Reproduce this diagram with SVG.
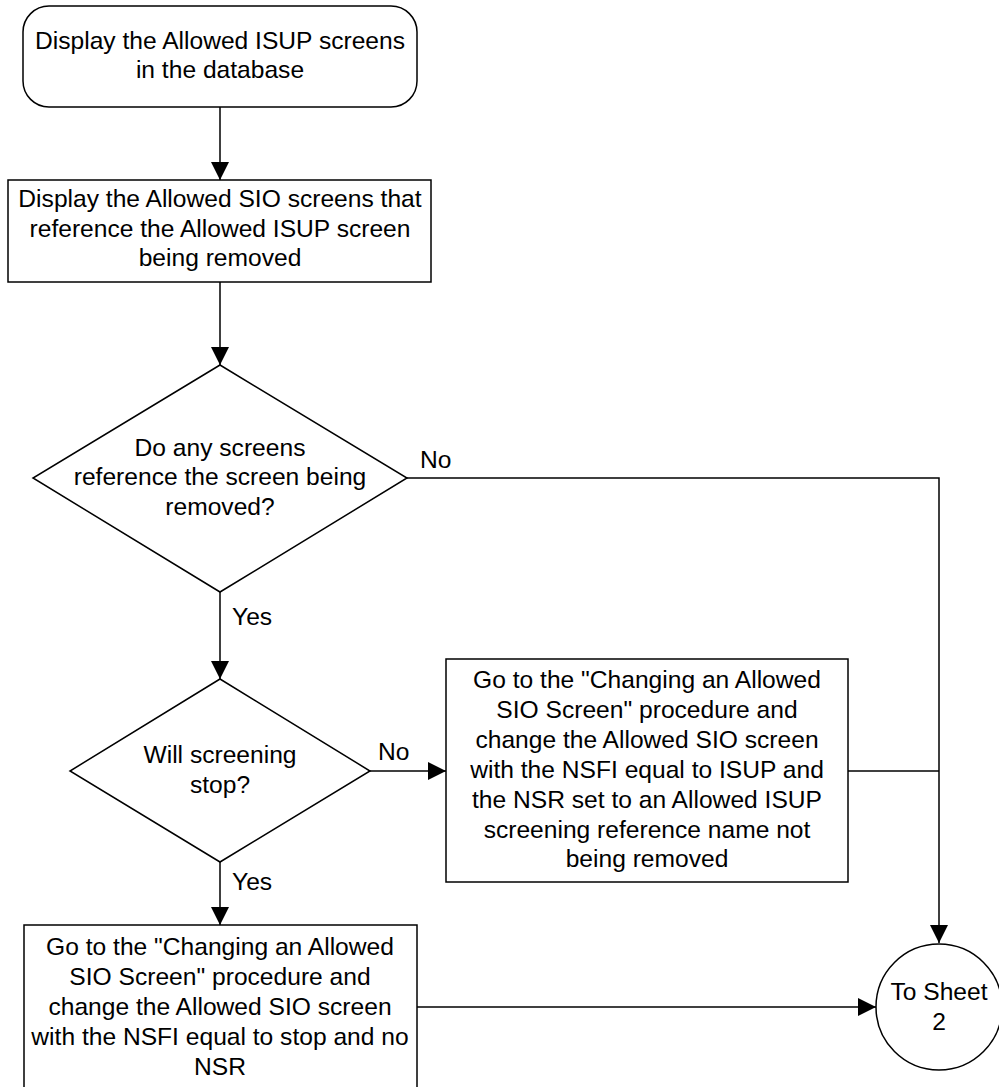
<svg xmlns="http://www.w3.org/2000/svg" width="999" height="1087" viewBox="0 0 999 1087">
<defs>
<style>
.s{fill:#fff;stroke:#000;stroke-width:1.5}
.c{fill:none;stroke:#000;stroke-width:1.5}
text{font-family:"Liberation Sans",Arial,sans-serif;font-size:24.6px;fill:#000}
.m{text-anchor:middle}
</style>
<marker id="a" viewBox="0 0 18 18" refX="18" refY="9" markerWidth="18" markerHeight="18" markerUnits="userSpaceOnUse" orient="auto">
<path d="M0,0 L18,9 L0,18 Z" fill="#000"/>
</marker>
</defs>
<rect width="999" height="1087" fill="#fff"/>
<g id="connectors">
<line class="c" x1="220" y1="107" x2="220" y2="180" marker-end="url(#a)"/>
<line class="c" x1="220" y1="282" x2="220" y2="365" marker-end="url(#a)"/>
<polyline class="c" points="407,478 939,478 939,943" marker-end="url(#a)"/>
<line class="c" x1="220" y1="592" x2="220" y2="679" marker-end="url(#a)"/>
<line class="c" x1="370" y1="771" x2="446" y2="771" marker-end="url(#a)"/>
<line class="c" x1="848" y1="771" x2="939" y2="771"/>
<line class="c" x1="220" y1="862" x2="220" y2="925" marker-end="url(#a)"/>
<line class="c" x1="417" y1="1007" x2="876" y2="1007" marker-end="url(#a)"/>
<text x="420" y="468">No</text>
<text x="232" y="625">Yes</text>
<text x="378" y="760">No</text>
<text x="232" y="890">Yes</text>
</g>
<g id="start">
<rect class="s" x="23" y="6" width="394" height="101" rx="26"/>
<text class="m" x="220" y="49">Display the Allowed ISUP screens</text>
<text class="m" x="220" y="78">in the database</text>
</g>
<g id="display-sio">
<rect class="s" x="8" y="180" width="423" height="102"/>
<text class="m" x="220" y="207">Display the Allowed SIO screens that</text>
<text class="m" x="220" y="237">reference the Allowed ISUP screen</text>
<text class="m" x="220" y="266">being removed</text>
</g>
<g id="decision-reference">
<polygon class="s" points="220,365 407,478 220,592 33,478"/>
<text class="m" x="220" y="456">Do any screens</text>
<text class="m" x="220" y="485">reference the screen being</text>
<text class="m" x="220" y="515">removed?</text>
</g>
<g id="decision-stop">
<polygon class="s" points="220,679 370,771 220,862 70,771"/>
<text class="m" x="220" y="763">Will screening</text>
<text class="m" x="220" y="793">stop?</text>
</g>
<g id="change-isup">
<rect class="s" x="446" y="659" width="402" height="223"/>
<text class="m" x="647" y="688">Go to the "Changing an Allowed</text>
<text class="m" x="647" y="718">SIO Screen" procedure and</text>
<text class="m" x="647" y="748">change the Allowed SIO screen</text>
<text class="m" x="647" y="778">with the NSFI equal to ISUP and</text>
<text class="m" x="647" y="808">the NSR set to an Allowed ISUP</text>
<text class="m" x="647" y="838">screening reference name not</text>
<text class="m" x="647" y="867">being removed</text>
</g>
<g id="change-stop">
<rect class="s" x="24" y="925" width="393" height="175"/>
<text class="m" x="220" y="955">Go to the "Changing an Allowed</text>
<text class="m" x="220" y="985">SIO Screen" procedure and</text>
<text class="m" x="220" y="1015">change the Allowed SIO screen</text>
<text class="m" x="220" y="1045">with the NSFI equal to stop and no</text>
<text class="m" x="220" y="1075">NSR</text>
</g>
<g id="to-sheet-2">
<circle class="s" cx="939" cy="1007" r="63"/>
<text class="m" x="939" y="1000">To Sheet</text>
<text class="m" x="939" y="1030">2</text>
</g>
</svg>
